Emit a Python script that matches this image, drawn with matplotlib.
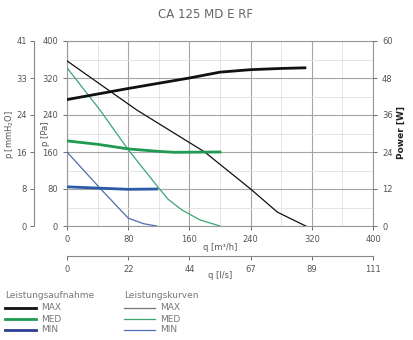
import numpy as np
import matplotlib.pyplot as plt
from matplotlib.lines import Line2D
from matplotlib.ticker import MultipleLocator

# pressure curves (q in m3/h, p in Pa)
q_max = [0, 91, 180, 240, 275, 312]
p_max = [357, 251, 160, 80, 30, 0]
q_med = [0, 43, 80, 120, 132, 150, 174, 200]
p_med = [342, 251, 165, 82, 58, 35, 13, 0]
q_min = [0, 43, 80, 100, 117]
p_min = [160, 82, 17, 5, 0]

# power consumption (W)
qw_max = [0, 80, 160, 200, 240, 280, 311]
w_max = [41, 44.6, 48, 49.9, 50.7, 51.1, 51.3]
qw_med = [0, 40, 80, 120, 140, 200]
w_med = [27.6, 26.5, 25.0, 24.2, 23.9, 24.0]
qw_min = [0, 40, 80, 117]
w_min = [12.7, 12.3, 11.9, 12.0]

pa_ticks = [0, 80, 160, 240, 320, 400]
mmh2o_labels = ['0', '8', '16', '24', '33', '41']
ls_labels = ['0', '22', '44', '67', '89', '111']

black = '#111111'
green = '#1f9a50'
green_thin = '#3aa672'
blue = '#2b5aa8'
blue_thin = '#4d6db0'
txt = '#555555'

W, H = 413, 340
fig = plt.figure(figsize=(4.13, 3.40), dpi=100)
ax = fig.add_axes([67 / W, 114 / H, 306 / W, 185 / H])

ax.set_xlim(0, 400)
ax.set_ylim(0, 400)
ax.set_xticks(pa_ticks)
ax.set_yticks(pa_ticks)
ax.xaxis.set_minor_locator(MultipleLocator(40))
ax.yaxis.set_minor_locator(MultipleLocator(40))
ax.grid(True, which='major', color='#a5a5a5', lw=0.8)
ax.grid(True, which='minor', color='#e0e0e0', lw=0.6)
ax.tick_params(which='minor', length=0)
ax.tick_params(which='major', labelsize=6, colors=txt, length=3, width=0.6)
for s in ax.spines.values():
    s.set_color('#999999')
    s.set_linewidth(0.8)
ax.set_axisbelow(True)

# pressure curves
ax.plot(q_max, p_max, color=black, lw=0.9, zorder=3)
ax.plot(q_med, p_med, color=green_thin, lw=0.9, zorder=3)
ax.plot(q_min, p_min, color=blue_thin, lw=0.9, zorder=3)

# power on right axis
axr = ax.twinx()
axr.set_ylim(0, 60)
axr.set_yticks([0, 12, 24, 36, 48, 60])
axr.tick_params(labelsize=6, colors=txt, length=3, width=0.6)
for s in axr.spines.values():
    s.set_visible(False)
axr.plot(qw_max, w_max, color=black, lw=2.0, zorder=4)
axr.plot(qw_med, w_med, color=green, lw=2.0, zorder=4)
axr.plot(qw_min, w_min, color=blue, lw=2.0, zorder=4)

# mmH2O axis on far left
sec_y = ax.secondary_yaxis(-0.108)
sec_y.set_yticks(pa_ticks)
sec_y.set_yticklabels(mmh2o_labels)
sec_y.tick_params(labelsize=6, colors=txt, length=3, width=0.6, pad=2)
sec_y.spines['left'].set_color('#888888')

# l/s axis below
sec_x = ax.secondary_xaxis(-0.162)
sec_x.set_xticks(pa_ticks)
sec_x.set_xticklabels(ls_labels)
sec_x.tick_params(labelsize=6, colors=txt, length=3, width=0.6)
sec_x.spines['bottom'].set_color('#888888')

# axis titles
fig.text(10 / W, 1 - 134 / H, 'p [mmH$_2$O]', rotation=90, fontsize=6, color=txt,
         ha='center', va='center')
fig.text(45 / W, 1 - 134 / H, 'p [Pa]', rotation=90, fontsize=6, color=txt,
         ha='center', va='center')
fig.text(401 / W, 1 - 133 / H, 'Power [W]', rotation=90, fontsize=6.5, color='#222222',
         fontweight='bold', ha='center', va='center')
fig.text(220 / W, 1 - 247 / H, 'q [m³/h]', fontsize=6, color=txt, ha='center', va='center')
fig.text(220 / W, 1 - 276 / H, 'q [l/s]', fontsize=6, color=txt, ha='center', va='center')

fig.text(206 / W, 1 - 15 / H, 'CA 125 MD E RF', ha='center', va='center',
         fontsize=8.5, color='#666666')

# legends
groups = [
    (5, 'Leistungsaufnahme', [black, green, '#2a3f8f'], 2.0),
    (124, 'Leistungskurven', ['#777777', green_thin, blue_thin], 0.9),
]
names = ['MAX', 'MED', 'MIN']
for x0, title, cols, lw in groups:
    fig.text(x0 / W, 1 - 296 / H, title, fontsize=6.5, color='#777777', va='center')
    for i, (c, n) in enumerate(zip(cols, names)):
        y = 1 - (308 + 11 * i) / H
        fig.add_artist(Line2D([x0 / W, (x0 + 31) / W], [y, y], color=c, lw=lw))
        fig.text((x0 + 36) / W, y, n, fontsize=6.5, color='#777777', va='center')

fig.savefig('out.png', dpi=100)
